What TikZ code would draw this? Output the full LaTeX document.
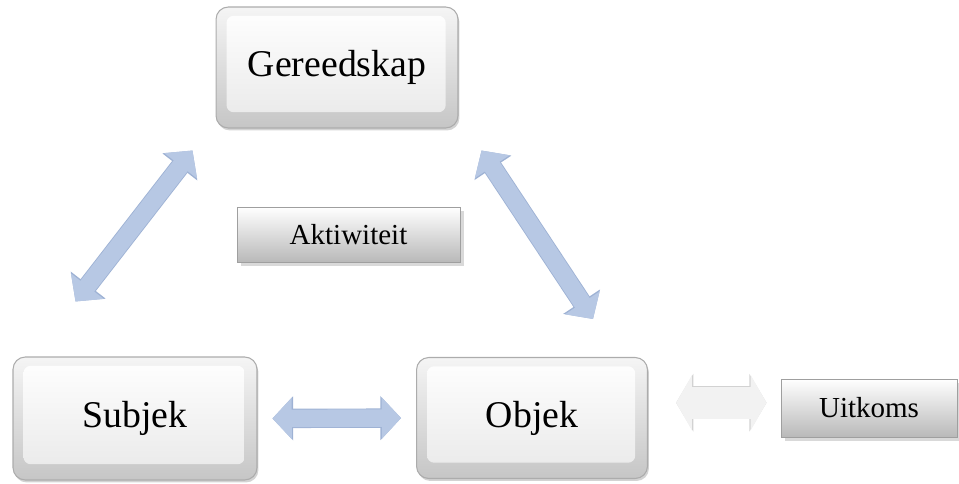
\documentclass[tikz,border=0pt]{standalone}
\usepackage{fontspec}
\setmainfont{Liberation Serif}
\usetikzlibrary{arrows.meta,shadows}

\definecolor{arrowblue}{RGB}{183,200,228}
\definecolor{arrowrim}{RGB}{158,178,212}
\definecolor{greyrim}{RGB}{210,210,210}

\tikzset{
  keycap/.style={draw=gray!65, line width=0.6pt, rounded corners=7pt,
    top color=gray!8, bottom color=gray!45,
    drop shadow={shadow xshift=0.8pt, shadow yshift=-1.4pt, opacity=0.35},
    path picture={\shade[top color=white, bottom color=gray!18, rounded corners=4pt]
      ([shift={(6pt,-5pt)}]path picture bounding box.north west) rectangle
      ([shift={(-7pt,9pt)}]path picture bounding box.south east);},
    font=\fontsize{21.5}{25}\selectfont},
  tag/.style={draw=gray!75, line width=0.5pt, top color=white, bottom color=gray!55,
    drop shadow={shadow xshift=2.2pt, shadow yshift=-2.2pt, opacity=0.3},
    font=\fontsize{16.5}{19}\selectfont},
  link/.style={draw=arrowblue, line width=10pt,
    {Triangle[width=23pt,length=11pt]}-{Triangle[width=23pt,length=11pt]},
    preaction={draw=arrowrim, line width=11pt,
      {Triangle[width=24.5pt,length=11.8pt]}-{Triangle[width=24.5pt,length=11.8pt]}}},
  outlink/.style={draw=gray!10, line width=18pt,
    {Triangle[width=31pt,length=9pt]}-{Triangle[width=31pt,length=9pt]},
    preaction={draw=greyrim, line width=19pt,
      {Triangle[width=32.5pt,length=9.8pt]}-{Triangle[width=32.5pt,length=9.8pt]}}}
}

\begin{document}
\begin{tikzpicture}[x=0.02cm, y=-0.02cm]
  \useasboundingbox (0,0) rectangle (959,483);

  \node[keycap, minimum width=4.84cm, minimum height=2.42cm] (gereedskap) at (337,67.5) {Gereedskap};
  \node[keycap, minimum width=4.88cm, minimum height=2.46cm] (subjek) at (135,418.5) {Subjek};
  \node[keycap, minimum width=4.62cm, minimum height=2.42cm] (objek) at (532,418) {Objek};
  \node[tag, minimum width=4.46cm, minimum height=1.1cm] (aktiwiteit) at (348.5,234.5) {Aktiwiteit};
  \node[tag, minimum width=3.52cm, minimum height=1.16cm] (uitkoms) at (869,408) {Uitkoms};

  \draw[link] ([shift={(63,-55)}]subjek.north west) -- ([shift={(-23,22)}]gereedskap.south west);
  \draw[link] ([shift={(23,22)}]gereedskap.south east) -- ([shift={(-55,-38)}]objek.north east);
  \draw[link, shorten <=8.5pt, shorten >=8.5pt] (subjek.east) -- (objek.west);
  \draw[outlink, shorten <=16pt, shorten >=8pt] ([yshift=3]objek.east |- uitkoms.west) -- ([yshift=3]uitkoms.west);
\end{tikzpicture}
\end{document}
